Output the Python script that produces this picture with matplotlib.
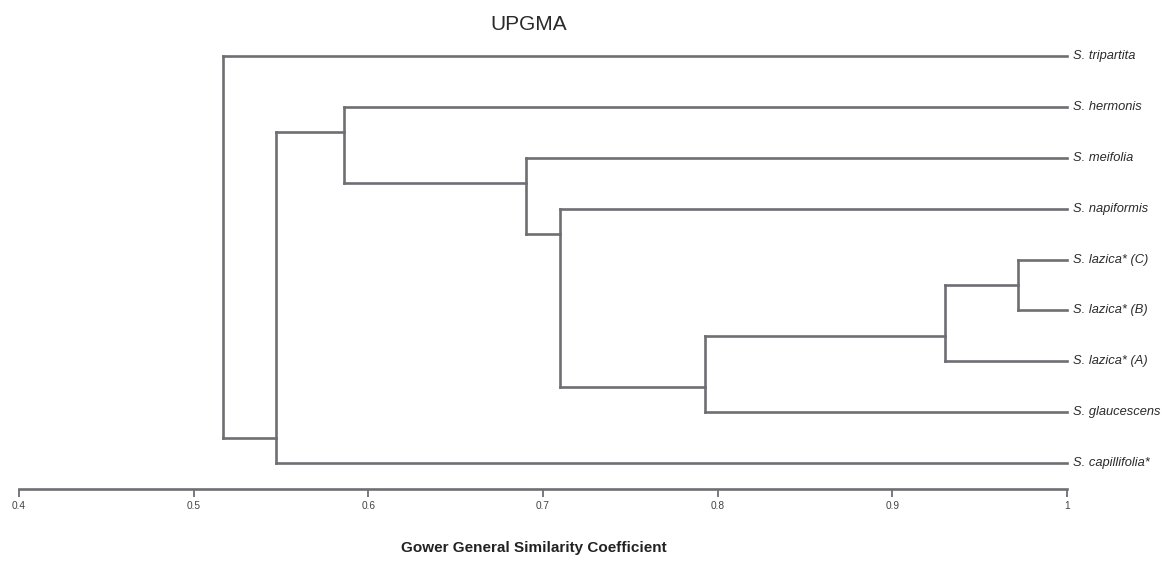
import matplotlib
matplotlib.use("Agg")
import matplotlib.pyplot as plt

# ---- data ----
leaf_labels = ["S. tripartita", "S. hermonis", "S. meifolia", "S. napiformis",
               "S. lazica* (C)", "S. lazica* (B)", "S. lazica* (A)",
               "S. glaucescens", "S. capillifolia*"]
# merges: (left child, right child, similarity); children are leaf labels or node names
merge_left = ["S. lazica* (C)", "n0", "n1", "S. napiformis", "S. meifolia",
              "S. hermonis", "n5", "S. tripartita"]
merge_right = ["S. lazica* (B)", "S. lazica* (A)", "S. glaucescens", "n2", "n3",
               "n4", "S. capillifolia*", "n6"]
merge_sim = [0.972, 0.930, 0.793, 0.710, 0.690, 0.586, 0.547, 0.517]
tick_values = [0.4, 0.5, 0.6, 0.7, 0.8, 0.9, 1.0]
tick_labels = ["0.4", "0.5", "0.6", "0.7", "0.8", "0.9", "1"]

plt.rcParams['font.family'] = ['Liberation Sans', 'DejaVu Sans']
LINE = '#6e6e73'

fig = plt.figure(figsize=(11.62, 5.61), dpi=100)
W, H = 1162, 561
ax = fig.add_axes([19 / W, (H - 489) / H, 1048 / W, (489 - 30.5) / H])

# build node info: x (similarity), y (junction), leaf span
info = {}
for i, lab in enumerate(leaf_labels):
    info[lab] = dict(x=1.0, y=float(i), lo=i, hi=i)
for k, (l, r, s) in enumerate(zip(merge_left, merge_right, merge_sim)):
    L, R = info[l], info[r]
    y = (L['hi'] + R['lo']) / 2.0
    info["n%d" % k] = dict(x=s, y=y, lo=min(L['lo'], R['lo']), hi=max(L['hi'], R['hi']))
    # vertical
    ax.plot([s, s], [L['y'], R['y']], color=LINE, lw=1.9, solid_capstyle='projecting',
            clip_on=False)
    # horizontals to children
    for c in (L, R):
        ax.plot([s, c['x']], [c['y'], c['y']], color=LINE, lw=1.9,
                solid_capstyle='projecting', clip_on=False)

for i, lab in enumerate(leaf_labels):
    ax.annotate(lab, xy=(1.0, i), xytext=(4, 0), textcoords='offset points',
                ha='left', va='center', fontsize=9.3, style='italic', color='#2a2a2a',
                annotation_clip=False)

ax.set_xlim(0.4, 1.0)
ax.set_ylim(8.507, -0.5)
for sp in ('left', 'right', 'top'):
    ax.spines[sp].set_visible(False)
ax.spines['bottom'].set_color(LINE)
ax.spines['bottom'].set_linewidth(1.9)
ax.set_yticks([])
ax.set_xticks(tick_values)
ax.set_xticklabels(tick_labels)
ax.tick_params(axis='x', direction='out', length=6, width=1.3, color=LINE,
               labelsize=7.3, labelcolor='#444444', pad=2.5)

fig.text(529 / W, 1 - 25 / H, "UPGMA", ha='center', va='center', fontsize=15,
         color='#2a2a2a')
fig.text(534 / W, 1 - 548 / H, "Gower General Similarity Coefficient", ha='center',
         va='center', fontsize=11, fontweight='bold', color='#222222')

fig.savefig("out.png", dpi=100)
